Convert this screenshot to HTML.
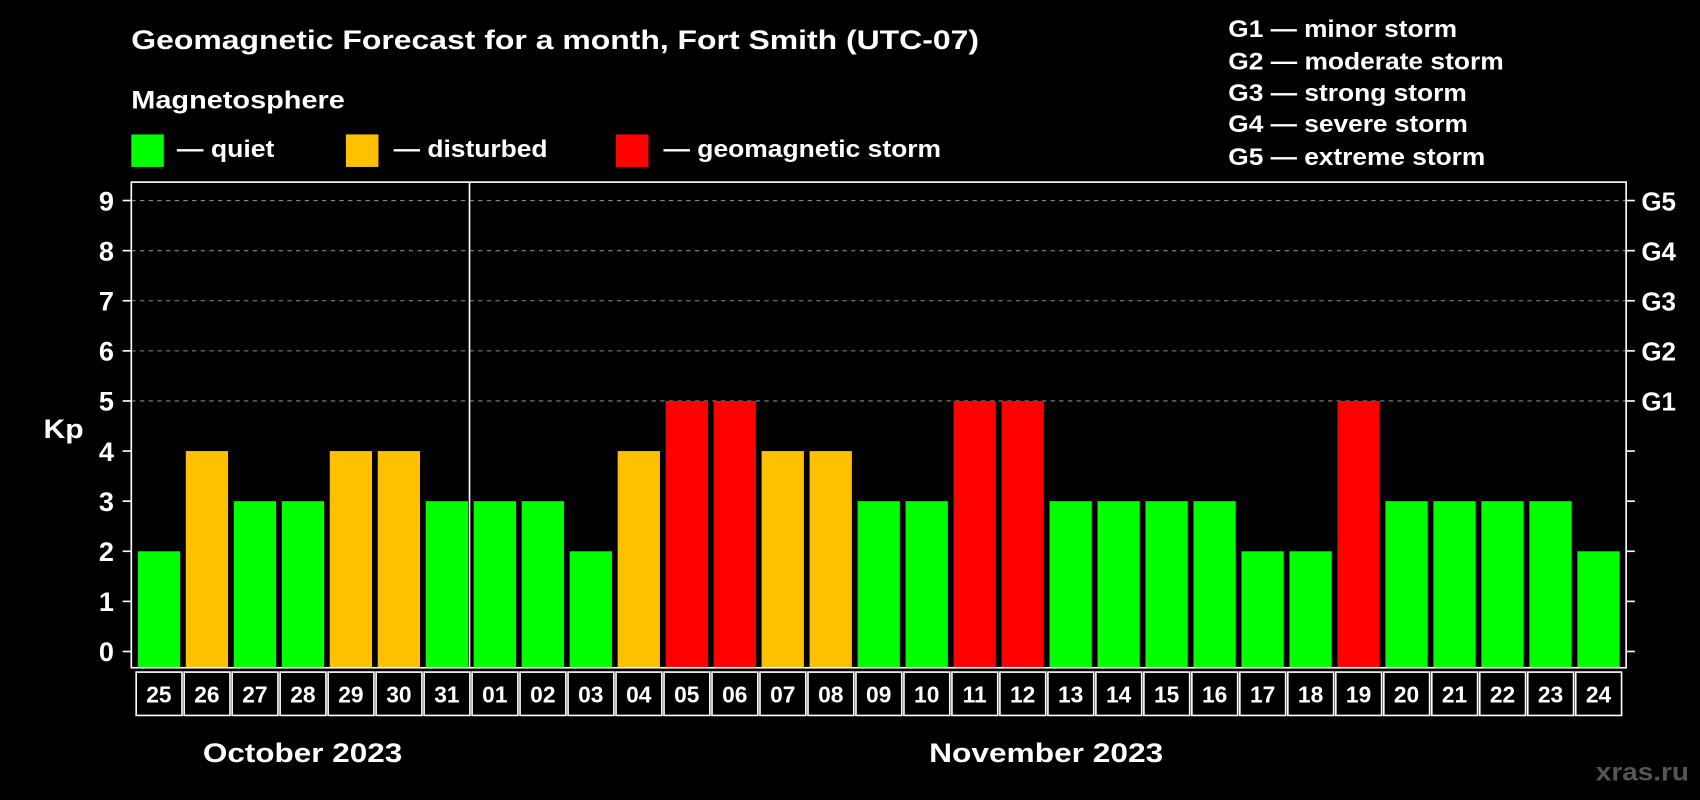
<!DOCTYPE html>
<html><head><meta charset="utf-8"><style>
html,body{margin:0;padding:0;background:#000;width:1700px;height:800px;overflow:hidden}
svg{display:block;font-family:"Liberation Sans",Arial,sans-serif;font-weight:bold}
</style></head><body>
<svg id="chart" width="1700" height="800" viewBox="0 0 1568 738" xmlns="http://www.w3.org/2000/svg">
<rect width="1568" height="738" fill="#000"/>
<text x="121" y="45" fill="#fff" font-size="25" textLength="782" lengthAdjust="spacingAndGlyphs">Geomagnetic Forecast for a month, Fort Smith (UTC-07)</text>
<text x="121" y="100" fill="#fff" font-size="23" textLength="197" lengthAdjust="spacingAndGlyphs">Magnetosphere</text>
<g><rect x="121" y="124" width="30" height="30" fill="#00ff00"/><text x="163" y="145" fill="#fff" font-size="22" textLength="90" lengthAdjust="spacingAndGlyphs">— quiet</text></g>
<g><rect x="319" y="124" width="30" height="30" fill="#ffc000"/><text x="363" y="145" fill="#fff" font-size="22" textLength="142" lengthAdjust="spacingAndGlyphs">— disturbed</text></g>
<g><rect x="568" y="124" width="30" height="30" fill="#ff0000"/><text x="612" y="145" fill="#fff" font-size="22" textLength="256" lengthAdjust="spacingAndGlyphs">— geomagnetic storm</text></g>
<g fill="#fff" font-size="22" lengthAdjust="spacingAndGlyphs">
<text x="1133" y="34" textLength="211" lengthAdjust="spacingAndGlyphs">G1 — minor storm</text><text x="1133" y="64" textLength="254" lengthAdjust="spacingAndGlyphs">G2 — moderate storm</text><text x="1133" y="93" textLength="220" lengthAdjust="spacingAndGlyphs">G3 — strong storm</text><text x="1133" y="122" textLength="221" lengthAdjust="spacingAndGlyphs">G4 — severe storm</text><text x="1133" y="152" textLength="237" lengthAdjust="spacingAndGlyphs">G5 — extreme storm</text></g>
<text x="40" y="404" fill="#fff" font-size="25" textLength="37" lengthAdjust="spacingAndGlyphs">Kp</text>
<g id="plot"></g>
<text x="187" y="703" fill="#fff" font-size="25" textLength="184" lengthAdjust="spacingAndGlyphs">October 2023</text>
<text x="857" y="703" fill="#fff" font-size="25" textLength="216" lengthAdjust="spacingAndGlyphs">November 2023</text>
<text x="1472" y="720" fill="#555" font-size="23" textLength="86" lengthAdjust="spacingAndGlyphs">xras.ru</text>
</svg>
<script>
const days=["25","26","27","28","29","30","31","01","02","03","04","05","06","07","08","09","10","11","12","13","14","15","16","17","18","19","20","21","22","23","24"];
const kp=[2,4,3,3,4,4,3,3,3,2,4,5,5,4,4,3,3,5,5,3,3,3,3,2,2,5,3,3,3,3,2];
const yTicks=[0,1,2,3,4,5,6,7,8,9];
const gLabels=["G1","G2","G3","G4","G5"];
const NS="http://www.w3.org/2000/svg";
const g=document.getElementById('plot');
const L=121,R=1500,T=168,B=616,y0=601,unit=(601-185)/9;
const x0=127,step=(1455-127)/30;
const y=v=>y0-v*unit;
const x=i=>x0+i*step;
function mk(t,a){const e=document.createElementNS(NS,t);for(const k in a)e.setAttribute(k,a[k]);g.appendChild(e);return e;}
yTicks.forEach(v=>{
 if(v>=5){const l=mk('line',{x1:L,x2:R,y1:y(v),y2:y(v),stroke:'#888','stroke-dasharray':'4,4'});
 
 }
 const t1=mk('line',{x1:L-8,x2:L,y1:y(v),y2:y(v),stroke:'#fff','stroke-width':1.5});
 
 
 const t2=mk('line',{x1:R,x2:R+8,y1:y(v),y2:y(v),stroke:'#fff','stroke-width':1.5});
 
 
 const tx=mk('text',{x:105,y:y(v)+9,fill:'#fff','font-size':25,'text-anchor':'end'});tx.textContent=v;
 
 
});
gLabels.forEach((s,i)=>{const t=mk('text',{x:1514,y:y(5+i)+9,fill:'#fff','font-size':24});t.textContent=s;
 
 });
kp.forEach((v,i)=>{
 const c=v>=5?'#ff0000':v>=4?'#ffc000':'#00ff00';
 const r=mk('rect',{x:x(i),y:y(v),width:39,height:B-y(v),fill:c});
 
 
 const b=mk('rect',{x:x(i)-1.5,y:620,width:step-2,height:40,fill:'none',stroke:'#fff','stroke-width':1.5});
 
 
 const t=mk('text',{x:x(i)+19.5,y:648,fill:'#fff','font-size':21,'text-anchor':'middle'});t.textContent=days[i];
 
 
});
const fr=mk('rect',{x:L,y:T,width:R-L,height:B-T,fill:'none',stroke:'#fff','stroke-width':1.5});


const sep=mk('line',{x1:433,x2:433,y1:T,y2:B,stroke:'#fff','stroke-width':1.5});


</script>
</body></html>
